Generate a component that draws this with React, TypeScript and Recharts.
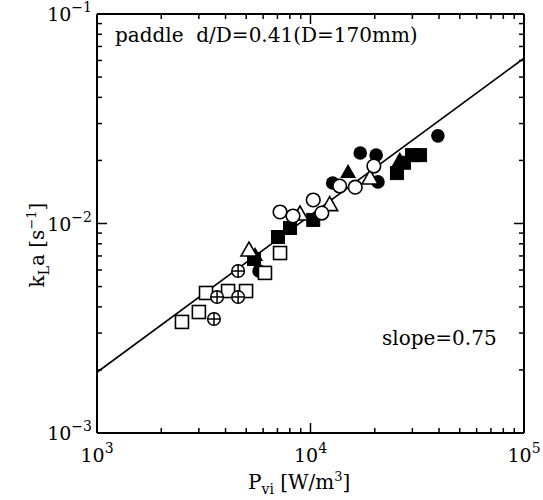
import React from 'react';
import { ComposedChart, Scatter, XAxis, YAxis, ReferenceLine } from 'recharts';

// log axes, minor ticks included so they can be drawn inward
const xTicks = [
  1000, 2000, 3000, 4000, 5000, 6000, 7000, 8000, 9000,
  10000, 20000, 30000, 40000, 50000, 60000, 70000, 80000, 90000, 100000,
];
const yTicks = [
  0.001, 0.002, 0.003, 0.004, 0.005, 0.006, 0.007, 0.008, 0.009,
  0.01, 0.02, 0.03, 0.04, 0.05, 0.06, 0.07, 0.08, 0.09, 0.1,
];

// P_vi [W/m3] vs kLa [1/s]
const openSquares = [
  { x: 2500, y: 0.00339 },
  { x: 3000, y: 0.00378 },
  { x: 3240, y: 0.00466 },
  { x: 4110, y: 0.00476 },
  { x: 4990, y: 0.00476 },
  { x: 6120, y: 0.00581 },
  { x: 7200, y: 0.00723 },
];
const crossedCircles = [
  { x: 3530, y: 0.0035 },
  { x: 3650, y: 0.00446 },
  { x: 4580, y: 0.00446 },
  { x: 4580, y: 0.00593 },
];
const openTriangles = [
  { x: 5150, y: 0.00747 },
  { x: 8930, y: 0.0111 },
  { x: 12300, y: 0.0123 },
  { x: 19000, y: 0.0165 },
];
const filledTriangles = [
  { x: 5500, y: 0.00708 },
  { x: 15000, y: 0.0176 },
  { x: 26200, y: 0.0201 },
];
const filledSquares = [
  { x: 5440, y: 0.00677 },
  { x: 7040, y: 0.00862 },
  { x: 8020, y: 0.00952 },
  { x: 10300, y: 0.0104 },
  { x: 25400, y: 0.0174 },
  { x: 27400, y: 0.0195 },
  { x: 29900, y: 0.0212 },
  { x: 32600, y: 0.0212 },
];
const openCircles = [
  { x: 7200, y: 0.01135 },
  { x: 8280, y: 0.01086 },
  { x: 10300, y: 0.01295 },
  { x: 11300, y: 0.01122 },
  { x: 13700, y: 0.0151 },
  { x: 16200, y: 0.0149 },
  { x: 19800, y: 0.0188 },
];
const filledCircles = [
  { x: 5740, y: 0.00593 },
  { x: 12700, y: 0.0156 },
  { x: 17100, y: 0.0217 },
  { x: 20300, y: 0.0212 },
  { x: 20700, y: 0.0158 },
  { x: 39500, y: 0.0262 },
];
const fitLine = [
  { x: 1000, y: 0.00195 },
  { x: 100000, y: 0.0615 },
];

const FONT = '"DejaVu Serif", serif';
const isDecade = (v: number) => Math.abs(Math.log10(v) - Math.round(Math.log10(v))) < 1e-6;

const BottomTick = (props: any) => {
  const { x, y, payload } = props;
  const major = isDecade(payload.value);
  const e = Math.round(Math.log10(payload.value));
  return (
    <g>
      <line x1={x} y1={y} x2={x} y2={y - (major ? 10 : 5)} stroke="#000" strokeWidth={1.5} />
      {major && (
        <text x={x} y={y + 29} textAnchor="middle" fontFamily={FONT} fontSize={19} fill="#000">
          10<tspan dy={-9} fontSize={14}>{e}</tspan>
        </text>
      )}
    </g>
  );
};

const TopTick = (props: any) => {
  const { x, y, payload } = props;
  const major = isDecade(payload.value);
  return <line x1={x} y1={y} x2={x} y2={y + (major ? 10 : 5)} stroke="#000" strokeWidth={1.5} />;
};

const LeftTick = (props: any) => {
  const { x, y, payload } = props;
  const major = isDecade(payload.value);
  const e = Math.round(Math.log10(payload.value));
  return (
    <g>
      <line x1={x} y1={y} x2={x + (major ? 10 : 5)} y2={y} stroke="#000" strokeWidth={1.5} />
      {major && (
        <text x={x - 5} y={y + 7} textAnchor="end" fontFamily={FONT} fontSize={19} fill="#000">
          10<tspan dy={-9} fontSize={14}>{'\u2212' + Math.abs(e)}</tspan>
        </text>
      )}
    </g>
  );
};

const RightTick = (props: any) => {
  const { x, y, payload } = props;
  const major = isDecade(payload.value);
  return <line x1={x} y1={y} x2={x - (major ? 10 : 5)} y2={y} stroke="#000" strokeWidth={1.5} />;
};

const OpenSquare = ({ cx, cy }: any) => (
  <rect x={cx - 6.5} y={cy - 6.5} width={13} height={13} fill="#fff" stroke="#000" strokeWidth={1.6} />
);
const FilledSquare = ({ cx, cy }: any) => (
  <rect x={cx - 6.5} y={cy - 6.5} width={13} height={13} fill="#000" stroke="#000" strokeWidth={1} />
);
const OpenCircle = ({ cx, cy }: any) => (
  <circle cx={cx} cy={cy} r={6.8} fill="#fff" stroke="#000" strokeWidth={1.6} />
);
const FilledCircle = ({ cx, cy }: any) => <circle cx={cx} cy={cy} r={6.8} fill="#000" />;
const CrossedCircle = ({ cx, cy }: any) => (
  <g stroke="#000" strokeWidth={1.5}>
    <circle cx={cx} cy={cy} r={6.3} fill="#fff" />
    <line x1={cx - 6.3} y1={cy} x2={cx + 6.3} y2={cy} />
    <line x1={cx} y1={cy - 6.3} x2={cx} y2={cy + 6.3} />
  </g>
);
const OpenTriangle = ({ cx, cy }: any) => (
  <polygon
    points={`${cx},${cy - 8} ${cx - 8},${cy + 6} ${cx + 8},${cy + 6}`}
    fill="#fff"
    stroke="#000"
    strokeWidth={1.6}
  />
);
const FilledTriangle = ({ cx, cy }: any) => (
  <polygon points={`${cx},${cy - 8} ${cx - 8},${cy + 6} ${cx + 8},${cy + 6}`} fill="#000" />
);
const NoShape = () => <g />;

export default function App() {
  return (
    <div style={{ position: 'absolute', left: 0, top: 0, width: 543, height: 500, background: '#fff' }}>
      <ComposedChart width={543} height={500} margin={{ top: 13, right: 18, bottom: 0, left: 0 }}>
        <XAxis
          dataKey="x"
          type="number"
          scale="log"
          domain={[1000, 100000]}
          ticks={xTicks}
          interval={0}
          allowDataOverflow
          height={67}
          tickSize={0}
          tickMargin={0}
          tickLine={false}
          tick={<BottomTick />}
          axisLine={{ stroke: '#000', strokeWidth: 2 }}
        />
        <XAxis
          xAxisId="top"
          dataKey="x"
          orientation="top"
          type="number"
          scale="log"
          domain={[1000, 100000]}
          ticks={xTicks}
          interval={0}
          allowDataOverflow
          height={1}
          tickSize={0}
          tickMargin={0}
          tickLine={false}
          tick={<TopTick />}
          axisLine={{ stroke: '#000', strokeWidth: 2 }}
        />
        <YAxis
          dataKey="y"
          type="number"
          scale="log"
          domain={[0.001, 0.1]}
          ticks={yTicks}
          interval={0}
          allowDataOverflow
          width={97}
          tickSize={0}
          tickMargin={0}
          tickLine={false}
          tick={<LeftTick />}
          axisLine={{ stroke: '#000', strokeWidth: 2 }}
        />
        <YAxis
          yAxisId="right"
          dataKey="y"
          orientation="right"
          type="number"
          scale="log"
          domain={[0.001, 0.1]}
          ticks={yTicks}
          interval={0}
          allowDataOverflow
          width={1}
          tickSize={0}
          tickMargin={0}
          tickLine={false}
          tick={<RightTick />}
          axisLine={{ stroke: '#000', strokeWidth: 2 }}
        />
        <Scatter data={filledCircles} shape={<FilledCircle />} isAnimationActive={false} />
        <Scatter data={filledSquares} shape={<FilledSquare />} isAnimationActive={false} />
        <Scatter data={filledTriangles} shape={<FilledTriangle />} isAnimationActive={false} />
        <Scatter data={openSquares} shape={<OpenSquare />} isAnimationActive={false} />
        <Scatter data={crossedCircles} shape={<CrossedCircle />} isAnimationActive={false} />
        <Scatter data={openTriangles} shape={<OpenTriangle />} isAnimationActive={false} />
        <Scatter data={openCircles} shape={<OpenCircle />} isAnimationActive={false} />
        <Scatter
          data={fitLine}
          xAxisId="top"
          yAxisId="right"
          shape={<NoShape />}
          isAnimationActive={false}
        />
        <ReferenceLine segment={fitLine} stroke="#000" strokeWidth={1.6} />
      </ComposedChart>
      <svg
        width={543}
        height={500}
        style={{ position: 'absolute', left: 0, top: 0, pointerEvents: 'none' }}
        fontFamily={FONT}
        fill="#000"
      >
        <text x={115} y={42} fontSize={20}>
          paddle{'\u00a0\u00a0'}d/D=0.41(D=170mm)
        </text>
        <text x={382} y={345} fontSize={20}>
          slope=0.75
        </text>
        <text x={248} y={489} fontSize={20}>
          P<tspan dy={5} fontSize={14}>vi</tspan>
          <tspan dy={-5}> [W/m</tspan>
          <tspan dy={-8} fontSize={13}>3</tspan>
          <tspan dy={8}>]</tspan>
        </text>
        <text x={44} y={245} fontSize={20} textAnchor="middle" transform="rotate(-90 44 245)">
          k<tspan dy={5} fontSize={14}>L</tspan>
          <tspan dy={-5}>a [s</tspan>
          <tspan dy={-8} fontSize={13}>{'\u2212'}1</tspan>
          <tspan dy={8}>]</tspan>
        </text>
      </svg>
    </div>
  );
}
